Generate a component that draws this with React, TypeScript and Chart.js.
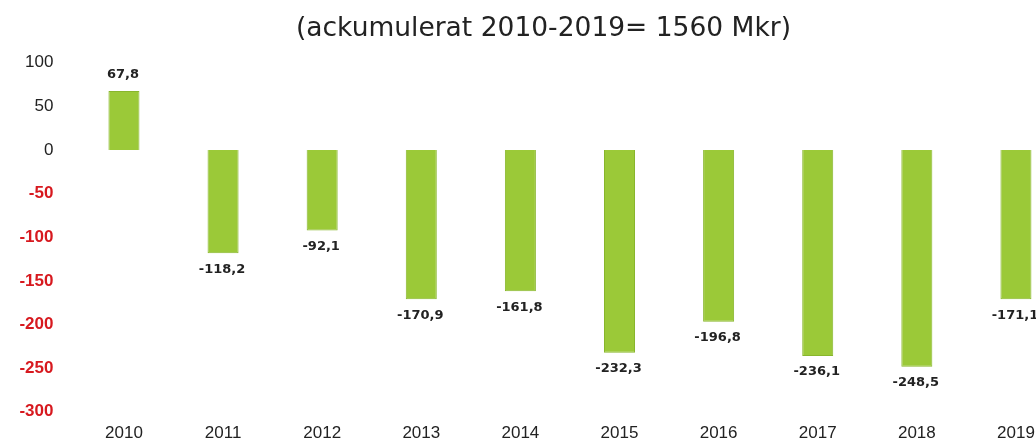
import React, { useEffect, useRef } from "react";
import { Chart, registerables } from "chart.js";

Chart.register(...registerables);

const categories = ["2010", "2011", "2012", "2013", "2014", "2015", "2016", "2017", "2018", "2019"];
const resultValues = [67.8, -118.2, -92.1, -170.9, -161.8, -232.3, -196.8, -236.1, -248.5, -171.1];
const titleText = "(ackumulerat 2010-2019= 1560 Mkr)";
const yMin = -300;
const yMax = 100;
const yStep = 50;

const valueLabelPlugin = {
  id: "valueLabels",
  afterDatasetsDraw(chart: any) {
    const ctx = chart.ctx;
    const meta = chart.getDatasetMeta(0);
    ctx.save();
    ctx.font = "bold 13px 'DejaVu Sans'";
    ctx.fillStyle = "#222222";
    ctx.textAlign = "center";
    ctx.textBaseline = "middle";
    meta.data.forEach((bar: any, i: number) => {
      const v = resultValues[i];
      const txt = v.toFixed(1).replace(".", ",");
      const y = v >= 0 ? bar.y - 16 : bar.y + 16;
      ctx.fillText(txt, bar.x - 1, y);
    });
    ctx.restore();
  },
};

export default function App() {
  const ref = useRef<HTMLCanvasElement | null>(null);
  useEffect(() => {
    document.body.style.margin = "0";
    document.body.style.overflow = "hidden";
    const canvas = ref.current!;
    const chart = new Chart(canvas, {
      type: "bar",
      data: {
        labels: categories,
        datasets: [
          {
            data: resultValues,
            backgroundColor: "#9bc938",
            borderColor: "#88b62c",
            borderWidth: 1,
            categoryPercentage: 1,
            barPercentage: 0.313,
          },
        ],
      },
      options: {
        responsive: false,
        animation: false,
        devicePixelRatio: 1,
        layout: { padding: 0 },
        plugins: {
          legend: { display: false },
          tooltip: { enabled: false },
          title: {
            display: true,
            text: titleText,
            color: "#222222",
            font: { family: "'DejaVu Sans'", size: 26.5, weight: "normal" },
            padding: { top: 13, bottom: 18 },
          },
        },
        scales: {
          x: {
            grid: { display: false, drawTicks: false },
            border: { display: false },
            ticks: {
              color: "#222222",
              font: { family: "'Liberation Sans'", size: 17 },
              padding: 11,
              maxRotation: 0,
              autoSkip: false,
            },
            afterFit(scale: any) {
              scale.height = 29;
            },
          },
          y: {
            min: yMin,
            max: yMax,
            grid: { display: false, drawTicks: false },
            border: { display: false },
            ticks: {
              stepSize: yStep,
              padding: 21,
              color: (c: any) => (c.tick && c.tick.value < 0 ? "#d7191f" : "#222222"),
              font: (c: any) => ({
                family: "'Liberation Sans'",
                size: 17,
                weight: c.tick && c.tick.value < 0 ? "bold" : "normal",
              }),
            },
            afterFit(scale: any) {
              scale.width = 74.4;
            },
          },
          yRightSpacer: {
            type: "linear",
            position: "right",
            display: true,
            grid: { display: false, drawTicks: false },
            border: { display: false },
            ticks: { display: false },
            afterFit(scale: any) {
              scale.width = 21.5;
            },
          },
        },
      },
      plugins: [valueLabelPlugin],
    });
    return () => chart.destroy();
  }, []);
  return (
    <div style={{ position: "absolute", left: 0, top: 0, width: 1087, height: 443, background: "#ffffff" }}>
      <canvas ref={ref} width={1087} height={443} style={{ display: "block" }} />
    </div>
  );
}
